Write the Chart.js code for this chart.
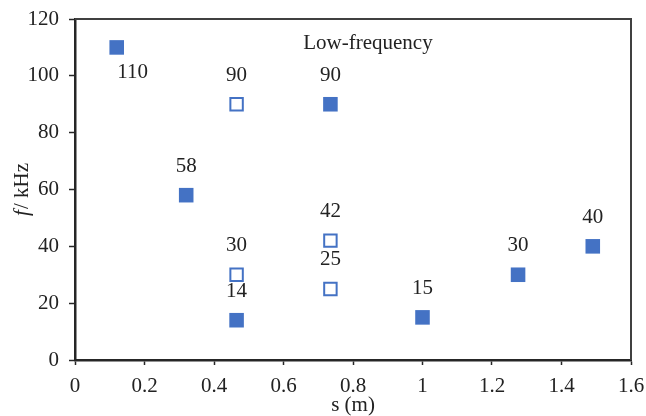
<!DOCTYPE html>
<html>
<head>
<meta charset="utf-8">
<script src="https://cdn.jsdelivr.net/npm/chart.js@4/dist/chart.umd.min.js"></script>
<style>
  html, body { margin: 0; padding: 0; background: #fff; }
  #wrap { width: 646px; height: 416px; }
</style>
</head>
<body>
<div id="wrap"><canvas id="c" width="646" height="416"></canvas></div>
<script>
// Measured spacing s (m) and frequency f (kHz)
const solidS = [0.12, 0.32, 0.465, 0.735, 1.0, 1.275, 1.49];
const solidF = [110, 58, 14, 90, 15, 30, 40];
const openS = [0.465, 0.465, 0.735, 0.735];
const openF = [90, 30, 42, 25];

const xTicks = [0, 0.2, 0.4, 0.6, 0.8, 1, 1.2, 1.4, 1.6];
const yTicks = [0, 20, 40, 60, 80, 100, 120];

const noteText = 'Low-frequency';
const noteAt = { x: 0.843, y: 111.5 };

// where each value label sits relative to its marker
const solidLabelSide = ['belowRight', 'above', 'above', 'above', 'above', 'above', 'above'];
const openLabelSide = ['above', 'above', 'above', 'above'];

const FONT = "'Liberation Serif', 'Times New Roman', serif";
const FS = 21;
const INK = '#222222';
const BLUE = '#4472C4';

const toPoints = (xs, ys) => xs.map((x, i) => ({ x, y: ys[i] }));

// let the layout padding alone decide the plot edges
const noOverflow = s => { s.paddingLeft = 0; s.paddingRight = 0; s.paddingTop = 0; s.paddingBottom = 0; };

const overlay = {
  id: 'overlay',
  afterDatasetsDraw(chart) {
    const { ctx, chartArea: a, scales } = chart;
    ctx.save();
    // frame on the top and right
    ctx.strokeStyle = '#404040';
    ctx.lineWidth = 2;
    ctx.beginPath();
    ctx.moveTo(a.left, a.top);
    ctx.lineTo(a.right, a.top);
    ctx.lineTo(a.right, a.bottom);
    ctx.stroke();

    ctx.fillStyle = INK;
    ctx.font = FS + 'px ' + FONT;
    ctx.textAlign = 'center';
    ctx.textBaseline = 'middle';

    const sides = [solidLabelSide, openLabelSide];
    chart.data.datasets.forEach((ds, di) => {
      const meta = chart.getDatasetMeta(di);
      meta.data.forEach((el, i) => {
        const side = sides[di][i];
        const txt = String(ds.data[i].y);
        if (side === 'belowRight') {
          ctx.fillText(txt, el.x + 16, el.y + 25);
        } else {
          ctx.fillText(txt, el.x, el.y - 29);
        }
      });
    });

    // annotation
    ctx.fillText(noteText, scales.x.getPixelForValue(noteAt.x), scales.y.getPixelForValue(noteAt.y));

    // y axis title: italic f followed by unit
    const cy = (a.top + a.bottom) / 2;
    ctx.translate(22, cy);
    ctx.rotate(-Math.PI / 2);
    ctx.textAlign = 'left';
    const italic = 'italic ' + FS + 'px ' + FONT;
    const upright = FS + 'px ' + FONT;
    ctx.font = italic;
    const w1 = ctx.measureText('f').width;
    ctx.font = upright;
    const rest = '/ kHz';
    const w2 = ctx.measureText(rest).width;
    const start = -(w1 + w2 + 1) / 2;
    ctx.font = italic;
    ctx.fillText('f', start, 0);
    ctx.font = upright;
    ctx.fillText(rest, start + w1 + 1, 0);
    ctx.restore();
  }
};

new Chart(document.getElementById('c'), {
  type: 'scatter',
  data: {
    datasets: [
      {
        label: 'solid',
        data: toPoints(solidS, solidF),
        pointStyle: 'rect',
        pointRadius: 10.3,
        pointHoverRadius: 10.3,
        backgroundColor: BLUE,
        borderColor: BLUE,
        borderWidth: 0
      },
      {
        label: 'open',
        data: toPoints(openS, openF),
        pointStyle: 'rect',
        pointRadius: 8.8,
        pointHoverRadius: 8.8,
        backgroundColor: '#ffffff',
        borderColor: BLUE,
        borderWidth: 2
      }
    ]
  },
  options: {
    responsive: false,
    animation: false,
    events: [],
    layout: { padding: { left: 0, right: 15, top: 19, bottom: 0 } },
    plugins: { legend: { display: false }, tooltip: { enabled: false } },
    scales: {
      x: {
        type: 'linear',
        min: 0, max: 1.6,
        afterBuildTicks(s) { s.ticks = xTicks.map(v => ({ value: v })); },
        afterFit(s) { s.height = 56; noOverflow(s); },
        ticks: {
          color: INK,
          font: { family: FONT, size: FS },
          padding: 9,
          maxRotation: 0,
          callback: v => String(v)
        },
        grid: { drawOnChartArea: false, tickLength: 5, color: '#262626', tickWidth: 1.5 },
        border: { display: true, color: '#262626', width: 2.5 },
        title: {
          display: true,
          text: 's (m)',
          color: INK,
          font: { family: FONT, size: FS },
          padding: { top: 0, bottom: -2 }
        }
      },
      y: {
        type: 'linear',
        min: 0, max: 120,
        afterBuildTicks(s) { s.ticks = yTicks.map(v => ({ value: v })); },
        afterFit(s) { s.width = 75; noOverflow(s); },
        ticks: {
          color: INK,
          font: { family: FONT, size: FS },
          padding: 10,
          callback: v => String(v)
        },
        grid: { drawOnChartArea: false, tickLength: 6, color: '#262626', tickWidth: 1.5 },
        border: { display: true, color: '#262626', width: 2.5 }
      }
    }
  },
  plugins: [overlay]
});
</script>
</body>
</html>
